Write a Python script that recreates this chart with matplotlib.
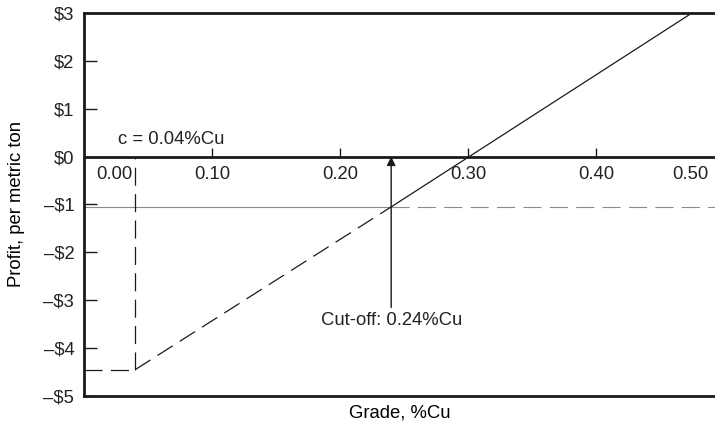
import matplotlib.pyplot as plt
from matplotlib.ticker import FixedLocator, FuncFormatter

plt.rcParams['font.family'] = ['Liberation Sans', 'DejaVu Sans']
plt.rcParams['font.size'] = 13.3
plt.rcParams['text.color'] = '#222222'

# profit curve: loss floor, dashed loss region, solid profitable region
floor_grade = [0.0, 0.04]
floor_profit = [-4.45, -4.45]
c_grade = [0.04, 0.04]
c_profit = [-4.45, 0.0]
loss_grade = [0.04, 0.24]
loss_profit = [-4.45, -1.05]
gain_grade = [0.24, 0.475]
gain_profit = [-1.05, 3.0]

cutoff_grade = 0.24
cost_level = -1.05

y_ticks = [3, 2, 1, 0, -1, -2, -3, -4, -5]
x_ticks = [0.10, 0.20, 0.30, 0.40]
x_labels = ['0.00', '0.10', '0.20', '0.30', '0.40', '0.50']
x_label_pos = [0.0234, 0.10, 0.20, 0.30, 0.40, 0.474]

xmax = 0.493

fig = plt.figure(figsize=(7.15, 4.28), dpi=100)
ax = fig.add_axes([0.1175, 0.0748, 1 - 0.1175, 0.9696 - 0.0748])
ax.set_xlim(0, xmax)
ax.set_ylim(-5, 3)

for s in ['top', 'bottom', 'left']:
    ax.spines[s].set_linewidth(2.0)
    ax.spines[s].set_color('#1a1a1a')
ax.spines['right'].set_visible(False)

ax.yaxis.set_major_locator(FixedLocator(y_ticks))
ax.yaxis.set_major_formatter(FuncFormatter(
    lambda v, p: ('$%d' % v) if v >= 0 else ('\u2013$%d' % -v)))
ax.tick_params(axis='y', direction='in', length=9.5, width=1.0,
               pad=7, colors='#1a1a1a', labelcolor='#222222')
ax.set_xticks([])

ax.set_xlabel('Grade, %Cu', labelpad=6)
ax.set_ylabel('Profit, per metric ton', labelpad=13)

# zero line with its grade ticks
ax.axhline(0, color='#1a1a1a', lw=2.0)
ax.vlines(x_ticks, 0, 0.17, color='#1a1a1a', lw=1.0)
for lab, xp in zip(x_labels, x_label_pos):
    ax.text(xp, -0.37, lab, ha='center', va='center')

lw = 0.9
dash = (0, (13 / lw, 6 / lw))

# cost line
ax.plot([0, cutoff_grade], [cost_level, cost_level], color='#8a8a8a', lw=0.8)
ax.plot([cutoff_grade, xmax], [cost_level, cost_level], color='#8a8a8a',
        lw=0.8, linestyle=(0, (13 / 0.8, 6 / 0.8)))

ax.plot(floor_grade, floor_profit, color='#1a1a1a', lw=lw, linestyle=dash)
ax.plot(c_grade, c_profit, color='#1a1a1a', lw=lw, linestyle=dash)
ax.plot(loss_grade, loss_profit, color='#1a1a1a', lw=lw, linestyle=dash)
ax.plot(gain_grade, gain_profit, color='#1a1a1a', lw=lw, clip_on=False)

ax.text(0.068, 0.18, 'c = 0.04%Cu', ha='center', va='bottom')

# cut-off arrow
ax.annotate('', xy=(cutoff_grade, 0), xytext=(cutoff_grade, -3.15),
            arrowprops=dict(arrowstyle='-|>', color='#1a1a1a', lw=1.0,
                            mutation_scale=13, shrinkA=0, shrinkB=0))
ax.text(cutoff_grade, -3.42, 'Cut-off: 0.24%Cu', ha='center', va='center')

fig.savefig('out.png', dpi=100)
